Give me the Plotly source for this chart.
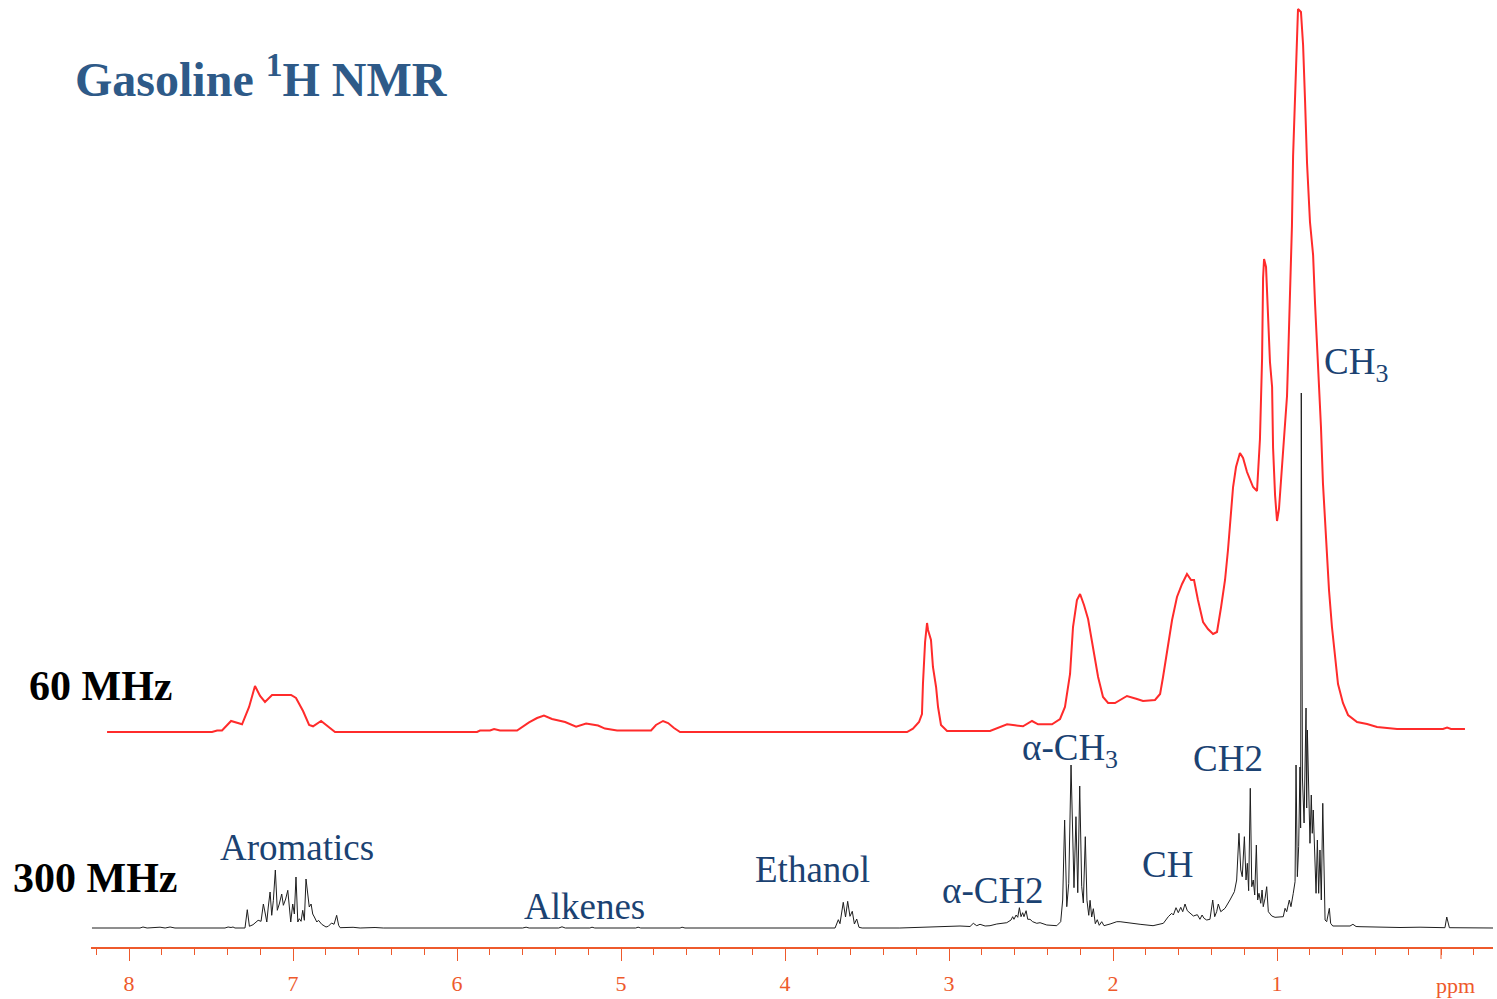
import plotly.graph_objects as go

# ---------------- data ----------------
# 60 MHz spectrum: chemical shift (ppm) and intensity (arbitrary units)
red_ppm = [8.134, 7.494, 7.463, 7.433, 7.378, 7.311, 7.268, 7.232, 7.201, 7.171, 7.128, 7.061, 7.012,
           6.982, 6.939, 6.902, 6.878, 6.829, 6.787, 6.744,
           5.878, 5.860, 5.799, 5.774, 5.738, 5.634, 5.561, 5.512, 5.470, 5.421, 5.341, 5.274, 5.213,
           5.140, 5.098, 5.024, 4.817, 4.787, 4.744, 4.713, 4.677, 4.640,
           3.256, 3.220, 3.183, 3.165, 3.159, 3.146, 3.134, 3.128, 3.110, 3.098, 3.079, 3.067, 3.049,
           3.012, 2.750, 2.646, 2.598, 2.549, 2.494, 2.457, 2.372, 2.323, 2.293, 2.262, 2.244, 2.220,
           2.201, 2.177, 2.152, 2.122, 2.091, 2.061, 2.030, 1.988, 1.915, 1.854, 1.817, 1.744, 1.713,
           1.695, 1.671, 1.640, 1.610, 1.579, 1.549, 1.524, 1.506, 1.482, 1.451, 1.421, 1.390, 1.366,
           1.341, 1.317, 1.299, 1.280, 1.268, 1.250, 1.226, 1.207, 1.183, 1.146, 1.122, 1.104, 1.091,
           1.085, 1.079, 1.067, 1.055, 1.043, 1.030, 1.024, 1.012, 1.000, 0.988, 0.970, 0.957, 0.939,
           0.933, 0.921, 0.909, 0.902, 0.890, 0.878, 0.872, 0.854, 0.841, 0.829, 0.817, 0.799, 0.780,
           0.768, 0.756, 0.744, 0.732, 0.720, 0.707, 0.695, 0.683, 0.665, 0.646, 0.628, 0.598, 0.567,
           0.512, 0.451, 0.390, 0.268, -0.012, -0.037, -0.061, -0.146]
red_int = [0, 0, 1.5, 1.5, 11, 7.7, 25, 46, 36, 30, 37, 37, 37,
           34, 21, 7, 5.7, 11, 5.7, 0,
           0, 1.5, 1.5, 3, 1.5, 1.5, 9.6, 14, 16.5, 13, 10, 5.4, 8.4,
           6.5, 3.4, 1.5, 1.5, 7, 11, 9, 4, 0,
           0, 3.3, 10, 18, 48, 90, 109, 102, 92, 65, 45, 25, 7,
           1, 1, 7.7, 6.7, 5.7, 11, 7.7, 7.7, 13, 25, 58, 105, 132,
           138, 127, 113, 85, 55, 35, 29, 29, 36, 33, 31, 32, 38,
           55, 82, 112, 135, 148, 158, 152, 152, 132, 110, 103, 98, 100,
           125, 152, 182, 217, 245, 265, 279, 274, 260, 245, 241, 293, 374,
           454, 473, 465, 420, 370, 345, 284, 237, 211, 223, 265, 298, 336,
           369, 440, 506, 576, 645, 711, 723, 720, 687, 631, 569, 510, 477,
           428, 390, 355, 305, 249, 213, 178, 142, 105, 72, 48, 29, 17,
           10, 8, 5, 3, 3, 4.5, 3, 3]

# 300 MHz spectrum
black_ppm = [8.226, 7.933, 7.915, 7.890, 7.811, 7.780, 7.750, 7.720, 7.415, 7.396, 7.378, 7.366, 7.354,
             7.293, 7.279, 7.266, 7.244, 7.213, 7.195, 7.181, 7.169, 7.160, 7.151, 7.140, 7.130, 7.120,
             7.108, 7.096, 7.084, 7.069, 7.059, 7.045, 7.032, 7.023, 7.014, 7.002, 6.992, 6.982, 6.971,
             6.962, 6.951, 6.941, 6.931, 6.921, 6.910, 6.901, 6.890, 6.880, 6.870, 6.855, 6.845, 6.825,
             6.799, 6.785, 6.765, 6.750, 6.734, 6.722, 6.713, 6.634, 6.591, 6.500, 6.450,
             5.600, 5.579, 5.560, 5.380, 5.360, 5.340, 5.190, 5.177, 5.160, 4.910, 4.896, 4.880,
             4.640, 4.628, 4.610,
             3.695, 3.675, 3.665, 3.645, 3.631, 3.618, 3.604, 3.590, 3.577, 3.563, 3.549, 3.530,
             3.300, 3.055, 2.933, 2.872, 2.852, 2.831, 2.811, 2.780, 2.750, 2.709, 2.648, 2.622, 2.612,
             2.604, 2.591, 2.581, 2.571, 2.561, 2.551, 2.543, 2.530, 2.520, 2.506, 2.490, 2.465, 2.445,
             2.404, 2.343, 2.319, 2.307, 2.295, 2.282, 2.270, 2.256, 2.246, 2.238, 2.226, 2.215, 2.203,
             2.191, 2.181, 2.169, 2.159, 2.148, 2.140, 2.130, 2.120, 2.108, 2.096, 2.084, 2.069, 2.055,
             2.018, 1.977, 1.957, 1.896, 1.835, 1.756, 1.713, 1.693, 1.663, 1.642, 1.632, 1.616, 1.602,
             1.587, 1.575, 1.561, 1.547, 1.530, 1.510, 1.486, 1.470, 1.457, 1.445, 1.429, 1.409, 1.392,
             1.380, 1.368, 1.358, 1.343, 1.317, 1.287, 1.260, 1.246, 1.232, 1.221, 1.212, 1.199, 1.189,
             1.181, 1.173, 1.163, 1.154, 1.145, 1.136, 1.126, 1.118, 1.110, 1.099, 1.091, 1.084, 1.073,
             1.063, 1.053, 1.032, 1.012, 0.982, 0.962, 0.951, 0.941, 0.925, 0.915, 0.901, 0.890, 0.884,
             0.876, 0.868, 0.860, 0.856, 0.852, 0.845, 0.835, 0.823, 0.819, 0.815, 0.807, 0.799, 0.791,
             0.785, 0.779, 0.770, 0.762, 0.754, 0.746, 0.738, 0.730, 0.721, 0.713, 0.707, 0.697, 0.681,
             0.673, 0.660, 0.555, 0.537, 0.518, 0.494, 0.250, 0.128, -0.024, -0.035, -0.051, -0.317]
black_int = [0, 0, 1, 0, 0.8, 0, 1, 0, 0, 1, 0.5, 1, 0,
             0, 18.3, 1.7, 3.3, 7.7, 6.7, 24, 14, 6, 21, 36, 12.7, 27.7,
             58, 17.7, 24, 34, 22.7, 29, 37.7, 17.7, 6, 24, 14, 51, 6,
             9.3, 6.7, 17.7, 7.7, 49, 31, 21, 24, 14, 11, 6, 7.7, 3.7,
             1, 1.7, 5, 3.7, 12.7, 2.7, 0.3, 0.7, 0, 0.5, 0,
             0, 0.8, 0, 0, 1.2, 0, 0, 0.8, 0, 0, 0.8, 0,
             0, 0.8, 0,
             0, 8.3, 4.3, 25.7, 11, 26.7, 11.7, 16.7, 4, 9, 0.7, 0,
             0, 1.5, 2, 1.5, 4.7, 2.3, 3.7, 2, 2.3, 4, 5.3, 8, 11.3,
             8.7, 13, 10.7, 20.3, 11.3, 15.3, 11.3, 17.3, 8.7, 8.7, 6.3, 4.7, 5.3,
             3, 2.3, 6.3, 28, 108, 21.3, 44.7, 163, 75.3, 40.3, 111.3, 35.3, 142,
             41.7, 25, 91.3, 27.7, 12.7, 27.7, 11, 19.3, 4.3, 8.3, 2.7, 6.3, 2.3,
             4, 6.3, 6.3, 4.7, 3.7, 2.3, 3.7, 4.7, 11.3, 14.7, 13, 20.3, 15.3,
             20.7, 16.3, 24, 17.3, 14.7, 12, 13.3, 8.7, 13, 9.7, 8, 8.7, 28,
             11.3, 16.3, 24, 16.3, 19.7, 28, 36.3, 48, 94.7, 58, 51.3, 91.3, 48,
             64.7, 37.3, 139.7, 41.3, 48, 33, 83, 28, 34.7, 24.7, 38, 21.3, 29.7,
             41.3, 16.3, 12, 10.7, 11.3, 11.3, 19.7, 16.3, 28, 21.3, 34.7, 46.3, 163,
             51.3, 81.3, 161, 100, 535, 150, 105, 220, 120, 198, 134.7, 84.7, 133,
             94.7, 118, 71.3, 34.7, 88, 34.7, 78, 28, 124.7, 34.7, 8, 6.3, 19.7,
             4.7, 2, 2, 3.7, 1.5, 1.3, 0.5, 0.8, 0.3, 11, 0.3, 0]

tick_vals = [1, 2, 3, 4, 5, 6, 7, 8]
tick_text = ["1", "2", "3", "4", "5", "6", "7", "8"]
unit_label = "ppm"

# region labels: (text, ppm position, height)
label_text = ["Aromatics", "Alkenes", "Ethanol", "α-CH2", "α-CH<sub>3</sub>", "CH", "CH2", "CH<sub>3</sub>"]
label_ppm = [6.976, 5.220, 3.835, 2.732, 2.262, 1.665, 1.299, 0.518]
label_int = [81, 22, 59, 38, 178, 64, 170, 564]

# ---------------- styling ----------------
RED_OFFSET = 196
AXIS_COLOR = "#EE5A2C"
LABEL_COLOR = "#1B4272"
SERIF = "Liberation Serif, Times New Roman, serif"

fig = go.Figure()
fig.add_trace(go.Scatter(x=red_ppm, y=[v + RED_OFFSET for v in red_int], mode="lines",
                         line=dict(color="#FF2B2B", width=2), hoverinfo="skip", showlegend=False))
fig.add_trace(go.Scatter(x=black_ppm, y=black_int, mode="lines",
                         line=dict(color="#1E1E1E", width=1), hoverinfo="skip", showlegend=False))

for t, xp, yi in zip(label_text, label_ppm, label_int):
    fig.add_annotation(x=xp, y=yi, xref="x", yref="y", text=t, showarrow=False,
                       xanchor="center", yanchor="middle",
                       font=dict(family=SERIF, size=37, color=LABEL_COLOR))

fig.add_annotation(x=-0.0128, y=0.9197, xref="paper", yref="paper", xanchor="left", yanchor="middle",
                   text="<b>Gasoline <sup>1</sup>H NMR</b>", showarrow=False,
                   font=dict(family=SERIF, size=48, color="#2E5A88"))
fig.add_annotation(x=-0.0456, y=0.2756, xref="paper", yref="paper", xanchor="left", yanchor="middle",
                   text="<b>60 MHz</b>", showarrow=False,
                   font=dict(family=SERIF, size=42, color="#000000"))
fig.add_annotation(x=-0.0570, y=0.0729, xref="paper", yref="paper", xanchor="left", yanchor="middle",
                   text="<b>300 MHz</b>", showarrow=False,
                   font=dict(family=SERIF, size=42, color="#000000"))
fig.add_annotation(x=-0.09, y=-0.041, xref="x", yref="paper", xanchor="center", yanchor="middle",
                   text=unit_label, showarrow=False,
                   font=dict(family=SERIF, size=22, color=AXIS_COLOR))
# major tick at 0 (labelled by the unit text instead of a number)
fig.add_shape(type="line", xref="x", yref="paper", x0=0, x1=0, y0=0, y1=-0.0127,
              line=dict(color=AXIS_COLOR, width=1))

fig.update_layout(
    width=1497, height=999,
    margin=dict(l=91, r=4, t=0, b=52),
    paper_bgcolor="white", plot_bgcolor="white",
    xaxis=dict(range=[8.232, -0.317], showgrid=False, zeroline=False,
               showline=True, linecolor=AXIS_COLOR, linewidth=2,
               ticks="outside", ticklen=12, tickwidth=1, tickcolor=AXIS_COLOR,
               tickvals=tick_vals, ticktext=tick_text, ticklabelstandoff=4,
               tickfont=dict(family=SERIF, size=22, color=AXIS_COLOR),
               minor=dict(ticks="outside", ticklen=6, tickwidth=1, tickcolor=AXIS_COLOR,
                          dtick=0.2, tick0=0, showgrid=False)),
    yaxis=dict(range=[-19, 928], visible=False),
)

fig.write_html("out.html", config={"displayModeBar": False},
               post_script="document.body.style.margin='0';")
